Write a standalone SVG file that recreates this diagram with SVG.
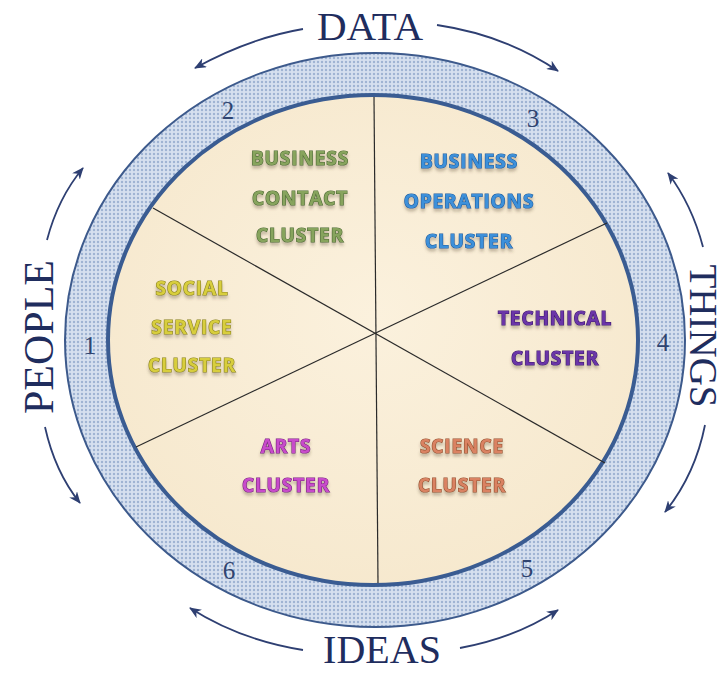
<svg xmlns="http://www.w3.org/2000/svg" width="724" height="673" viewBox="0 0 724 673">
<defs>
<pattern id="dots" width="4" height="4" patternUnits="userSpaceOnUse">
<rect width="4" height="4" fill="#d6e0ef"/>
<circle cx="2" cy="2" r="1.2" fill="#9fb3d3"/>
</pattern>
<radialGradient id="cream" cx="50%" cy="45%" r="60%">
<stop offset="0" stop-color="#fbf1dd"/>
<stop offset="1" stop-color="#f6e8cd"/>
</radialGradient>
<filter id="sh" x="-10%" y="-20%" width="120%" height="160%">
<feDropShadow dx="0" dy="3" stdDeviation="1.6" flood-color="#5a4a30" flood-opacity="0.35"/>
</filter>
<marker id="ah" viewBox="0 0 12 10" refX="11" refY="5" markerWidth="12" markerHeight="10" markerUnits="userSpaceOnUse" orient="auto">
<path d="M0,0 L12,5 L0,10 L3.5,5 z" fill="#2e3f72"/>
</marker>
</defs>
<style>
.lbl{font-family:"Liberation Serif","Times New Roman",serif;fill:#1f2d5e;font-size:42px;text-anchor:middle}
.num{font-family:"Liberation Serif","Times New Roman",serif;fill:#2f4470;font-size:25px;text-anchor:middle}
.arr{fill:none;stroke:#2e3f72;stroke-width:1.8;marker-end:url(#ah)}
.spoke{stroke:#2a2a2a;stroke-width:1.2}
.cl{font-family:"Open Sans","Liberation Sans",sans-serif;font-weight:bold;font-size:19px;text-anchor:middle;stroke-width:1.2;paint-order:stroke;letter-spacing:0.9px;filter:url(#sh)}
.g{fill:#87a45d;stroke:#4d6a35}
.b{fill:#3d90da;stroke:#1f5fa0}
.y{fill:#d8ce3c;stroke:#8a8220}
.p{fill:#6b35a8;stroke:#3e1a70}
.m{fill:#c84ccb;stroke:#7a2080}
.s{fill:#da8262;stroke:#94502f}
</style>
<rect width="724" height="673" fill="#ffffff"/>
<g id="wheel">
<ellipse cx="375" cy="340" rx="310" ry="287" fill="url(#dots)" stroke="#3d5a8c" stroke-width="2"/>
<ellipse cx="373" cy="340" rx="265" ry="245" fill="url(#cream)" stroke="#3a5c92" stroke-width="4"/>
</g>
<g id="spokes">
<line class="spoke" x1="374" y1="97" x2="378" y2="583"/>
<line class="spoke" x1="153" y1="208" x2="605" y2="463"/>
<line class="spoke" x1="136" y1="447" x2="607" y2="223"/>
</g>
<g id="numbers">
<text class="num" x="228" y="119">2</text>
<text class="num" x="533" y="127">3</text>
<text class="num" x="90" y="354">1</text>
<text class="num" x="663" y="351">4</text>
<text class="num" x="229" y="579">6</text>
<text class="num" x="527" y="577">5</text>
</g>
<g id="connectors">
<path class="arr" d="M303,29 Q250,38 195,68"/>
<path class="arr" d="M437,25 Q505,35 558,71"/>
<path class="arr" d="M47,240 Q58,198 83,168"/>
<path class="arr" d="M45,427 Q55,472 80,503"/>
<path class="arr" d="M703,247 Q692,205 668,173"/>
<path class="arr" d="M705,425 Q695,475 665,512"/>
<path class="arr" d="M303,650 Q240,640 190,608"/>
<path class="arr" d="M460,648 Q515,638 558,610"/>
</g>
<g id="data"><text class="lbl" x="370" y="40" style="font-size:41px">DATA</text></g>
<g id="people"><text class="lbl" transform="translate(53,337) rotate(-90)">PEOPLE</text></g>
<g id="things"><text class="lbl" transform="translate(690,336) rotate(90)" style="font-size:39px">THINGS</text></g>
<g id="ideas"><text class="lbl" x="382" y="663" style="font-size:40px">IDEAS</text></g>
<g id="business-contact">
<text class="cl g" x="300" y="165">BUSINESS</text>
<text class="cl g" x="300" y="205">CONTACT</text>
<text class="cl g" x="300" y="242">CLUSTER</text>
</g>
<g id="business-operations">
<text class="cl b" x="469" y="168">BUSINESS</text>
<text class="cl b" x="469" y="208">OPERATIONS</text>
<text class="cl b" x="469" y="248">CLUSTER</text>
</g>
<g id="social-service">
<text class="cl y" x="192" y="295">SOCIAL</text>
<text class="cl y" x="192" y="334">SERVICE</text>
<text class="cl y" x="192" y="372">CLUSTER</text>
</g>
<g id="technical">
<text class="cl p" x="555" y="325">TECHNICAL</text>
<text class="cl p" x="555" y="365">CLUSTER</text>
</g>
<g id="arts">
<text class="cl m" x="286" y="453">ARTS</text>
<text class="cl m" x="286" y="492">CLUSTER</text>
</g>
<g id="science">
<text class="cl s" x="462" y="453">SCIENCE</text>
<text class="cl s" x="462" y="492">CLUSTER</text>
</g>
</svg>
